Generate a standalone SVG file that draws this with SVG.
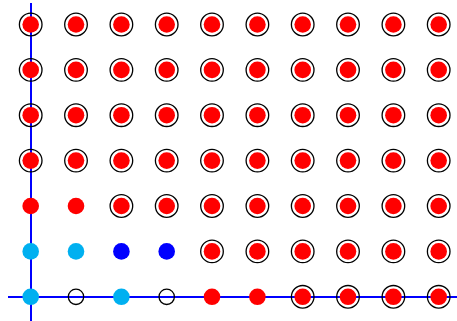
<svg xmlns="http://www.w3.org/2000/svg" xmlns:xlink="http://www.w3.org/1999/xlink" width="457" height="321" viewBox="0 0 457 321">
<style>
.ring{fill:none;stroke:#000;stroke-width:1.3}
.red{fill:#ff0000}
.lb{fill:#00b0f0}
.bl{fill:#0000ff}
.hollow{fill:none;stroke:#000;stroke-width:1.3}
.axis{stroke:#0000ff;stroke-width:2;fill:none}
</style>
<defs>
<g id="rr"><circle class="ring" r="11.3"/><circle class="red" r="8.3"/></g>
<circle id="r" class="red" r="8.3"/>
<circle id="lbc" class="lb" r="8.3"/>
<circle id="blc" class="bl" r="8.3"/>
<circle id="h" class="hollow" r="7.7"/>
</defs>
<g id="connectors">
<line class="axis" x1="31" y1="3" x2="31" y2="321"/>
<line class="axis" x1="8" y1="297" x2="457" y2="297"/>
</g>
<g id="nodes">
<g id="row0">
<use href="#rr" x="30.7" y="24.5"/><use href="#rr" x="76" y="24.5"/><use href="#rr" x="121.4" y="24.5"/><use href="#rr" x="166.7" y="24.5"/><use href="#rr" x="212" y="24.5"/><use href="#rr" x="257.4" y="24.5"/><use href="#rr" x="302.7" y="24.5"/><use href="#rr" x="348" y="24.5"/><use href="#rr" x="393.4" y="24.5"/><use href="#rr" x="438.7" y="24.5"/>
</g>
<g id="row1">
<use href="#rr" x="30.7" y="69.9"/><use href="#rr" x="76" y="69.9"/><use href="#rr" x="121.4" y="69.9"/><use href="#rr" x="166.7" y="69.9"/><use href="#rr" x="212" y="69.9"/><use href="#rr" x="257.4" y="69.9"/><use href="#rr" x="302.7" y="69.9"/><use href="#rr" x="348" y="69.9"/><use href="#rr" x="393.4" y="69.9"/><use href="#rr" x="438.7" y="69.9"/>
</g>
<g id="row2">
<use href="#rr" x="30.7" y="115.2"/><use href="#rr" x="76" y="115.2"/><use href="#rr" x="121.4" y="115.2"/><use href="#rr" x="166.7" y="115.2"/><use href="#rr" x="212" y="115.2"/><use href="#rr" x="257.4" y="115.2"/><use href="#rr" x="302.7" y="115.2"/><use href="#rr" x="348" y="115.2"/><use href="#rr" x="393.4" y="115.2"/><use href="#rr" x="438.7" y="115.2"/>
</g>
<g id="row3">
<use href="#rr" x="30.7" y="160.6"/><use href="#rr" x="76" y="160.6"/><use href="#rr" x="121.4" y="160.6"/><use href="#rr" x="166.7" y="160.6"/><use href="#rr" x="212" y="160.6"/><use href="#rr" x="257.4" y="160.6"/><use href="#rr" x="302.7" y="160.6"/><use href="#rr" x="348" y="160.6"/><use href="#rr" x="393.4" y="160.6"/><use href="#rr" x="438.7" y="160.6"/>
</g>
<g id="row4">
<use href="#r" x="30.7" y="206"/><use href="#r" x="76" y="206"/><use href="#rr" x="121.4" y="206"/><use href="#rr" x="166.7" y="206"/><use href="#rr" x="212" y="206"/><use href="#rr" x="257.4" y="206"/><use href="#rr" x="302.7" y="206"/><use href="#rr" x="348" y="206"/><use href="#rr" x="393.4" y="206"/><use href="#rr" x="438.7" y="206"/>
</g>
<g id="row5">
<use href="#lbc" x="30.7" y="251.4"/><use href="#lbc" x="76" y="251.4"/><use href="#blc" x="121.4" y="251.4"/><use href="#blc" x="166.7" y="251.4"/><use href="#rr" x="212" y="251.4"/><use href="#rr" x="257.4" y="251.4"/><use href="#rr" x="302.7" y="251.4"/><use href="#rr" x="348" y="251.4"/><use href="#rr" x="393.4" y="251.4"/><use href="#rr" x="438.7" y="251.4"/>
</g>
<g id="row6">
<use href="#lbc" x="30.7" y="296.8"/><use href="#h" x="76" y="296.8"/><use href="#lbc" x="121.4" y="296.8"/><use href="#h" x="166.7" y="296.8"/><use href="#r" x="212" y="296.8"/><use href="#r" x="257.4" y="296.8"/><use href="#rr" x="302.7" y="296.8"/><use href="#rr" x="348" y="296.8"/><use href="#rr" x="393.4" y="296.8"/><use href="#rr" x="438.7" y="296.8"/>
</g>
</g>
</svg>
